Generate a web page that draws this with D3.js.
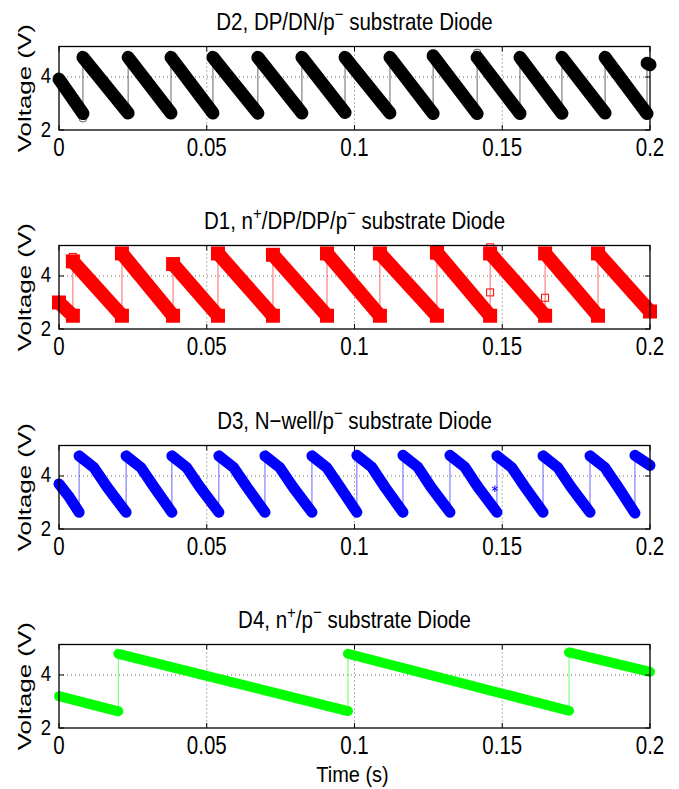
<!DOCTYPE html>
<html>
<head>
<meta charset="utf-8">
<script src="https://cdn.jsdelivr.net/npm/d3@7"></script>
<style>
  body { margin: 0; background: #fff; }
  text { font-family: "Liberation Sans", Arial, Helvetica, sans-serif; fill: #000; }
</style>
</head>
<body>
<svg id="chart" width="679" height="789"></svg>
<script>
// axis ticks
const xTicks = [0, 0.05, 0.1, 0.15, 0.2];
const xTickLabels = ["0", "0.05", "0.1", "0.15", "0.2"];
const yTicks = [2, 4];

// D2 waveform (vertices, a repeated time = reset jump)
const d2Time = [0, 0.0081, 0.0081, 0.0234, 0.0234, 0.0379, 0.0379, 0.0521, 0.0521, 0.0673,
  0.0673, 0.0822, 0.0822, 0.0968, 0.0968, 0.1120, 0.1120, 0.1266, 0.1266, 0.1415,
  0.1415, 0.1560, 0.1560, 0.1702, 0.1702, 0.1848, 0.1848, 0.1990, 0.1990, 0.2];
const d2Volt = [3.92, 2.62, 4.74, 2.64, 4.74, 2.64, 4.74, 2.64, 4.74, 2.63,
  4.74, 2.64, 4.74, 2.66, 4.74, 2.64, 4.74, 2.62, 4.8, 2.62,
  4.74, 2.62, 4.74, 2.63, 4.74, 2.64, 4.74, 2.62, 4.52, 4.46];
const d2OutT = [0.0081, 0.1415];
const d2OutV = [2.45, 4.9];

// D1 waveform
const d1Time = [0, 0.0047, 0.0047, 0.0213, 0.0213, 0.0386, 0.0386, 0.0538, 0.0538, 0.0724,
  0.0724, 0.0907, 0.0907, 0.1086, 0.1086, 0.1279, 0.1279, 0.1459, 0.1459, 0.1645,
  0.1645, 0.1824, 0.1824, 0.2];
const d1Volt = [3.0, 2.5, 4.55, 2.5, 4.85, 2.5, 4.45, 2.5, 4.85, 2.5,
  4.8, 2.5, 4.85, 2.5, 4.85, 2.5, 4.88, 2.5, 4.85, 2.5,
  4.85, 2.5, 4.85, 2.66];
const d1OutT = [0.0047, 0.1459, 0.1459, 0.1645];
const d1OutV = [4.72, 5.08, 3.38, 3.18];

// D3 waveform
const d3Time = [0, 0.0035, 0.0068, 0.0068, 0.0118, 0.0163, 0.0227, 0.0227, 0.0277, 0.0322, 0.0382,
  0.0382, 0.0432, 0.0477, 0.0541, 0.0541, 0.0591, 0.0636, 0.0697, 0.0697, 0.0747, 0.0792, 0.0856,
  0.0856, 0.0906, 0.0951, 0.1008, 0.1008, 0.1058, 0.1103, 0.1164, 0.1164, 0.1214, 0.1259, 0.1323,
  0.1323, 0.1373, 0.1418, 0.1482, 0.1482, 0.1532, 0.1577, 0.1638, 0.1638, 0.1688, 0.1733, 0.1797,
  0.1797, 0.1847, 0.1892, 0.1949, 0.1949, 0.2];
const d3Volt = [3.7, 3.2, 2.63, 4.76, 4.32, 3.58, 2.63, 4.76, 4.32, 3.58, 2.63,
  4.76, 4.32, 3.58, 2.63, 4.76, 4.32, 3.58, 2.63, 4.76, 4.32, 3.58, 2.63,
  4.76, 4.32, 3.58, 2.63, 4.78, 4.34, 3.58, 2.63, 4.78, 4.34, 3.58, 2.63,
  4.78, 4.34, 3.58, 2.63, 4.76, 4.32, 3.58, 2.63, 4.76, 4.32, 3.58, 2.63,
  4.76, 4.32, 3.58, 2.6, 4.78, 4.4];
const d3OutT = [0.1475];
const d3OutV = [3.52];

// D4 waveform
const d4Time = [0, 0.0201, 0.0201, 0.0978, 0.0978, 0.1726, 0.1726, 0.2];
const d4Volt = [3.2, 2.63, 4.8, 2.64, 4.8, 2.65, 4.85, 4.12];

const panels = [
  { title: [["D2, DP/DN/p", 0], ["\u2212", 1], [" substrate Diode", 0]], t: d2Time, v: d2Volt,
    outT: d2OutT, outV: d2OutV, color: "#000000", width: 13, cap: "round", marker: "circle" },
  { title: [["D1, n", 0], ["+", 1], ["/DP/DP/p", 0], ["\u2212", 1], [" substrate Diode", 0]], t: d1Time, v: d1Volt,
    outT: d1OutT, outV: d1OutV, color: "#ff0000", width: 14, cap: "butt", marker: "square" },
  { title: [["D3, N\u2212well/p", 0], ["\u2212", 1], [" substrate Diode", 0]], t: d3Time, v: d3Volt,
    outT: d3OutT, outV: d3OutV, color: "#0000ff", width: 11, cap: "round", marker: "star" },
  { title: [["D4, n", 0], ["+", 1], ["/p", 0], ["\u2212", 1], [" substrate Diode", 0]], t: d4Time, v: d4Volt,
    outT: [], outV: [], color: "#00ff00", width: 10, cap: "round", marker: "none" }
];

const left = 59, right = 650, plotH = 83.5;
const tops = [46.5, 245.5, 445.5, 644.5];

const svg = d3.select("#chart");
const x = d3.scaleLinear().domain([0, 0.2]).range([left, right]);

function addText(g, px, py, k, size, anchor) {
  return g.append("text")
    .attr("transform", "translate(" + px + "," + py + ") scale(1," + k + ")")
    .attr("font-size", size)
    .attr("text-anchor", anchor);
}

// split vertex list into runs at the reset jumps
function splitRuns(T, V) {
  const runs = [];
  let cur = [];
  T.forEach((t, i) => {
    if (i > 0 && t === T[i - 1]) { runs.push(cur); cur = []; }
    cur.push([t, V[i]]);
  });
  runs.push(cur);
  return runs;
}

panels.forEach((p, idx) => {
  const top = tops[idx], bottom = top + plotH;
  const y = d3.scaleLinear().domain([2, 5.15]).range([bottom, top]);
  const g = svg.append("g");

  // grid (dotted)
  xTicks.slice(1, -1).forEach(t => {
    g.append("line").attr("x1", x(t)).attr("x2", x(t)).attr("y1", top).attr("y2", bottom)
      .attr("stroke", "#444").attr("stroke-width", 0.8).attr("stroke-dasharray", "1,3");
  });
  g.append("line").attr("x1", left).attr("x2", right).attr("y1", y(4)).attr("y2", y(4))
    .attr("stroke", "#444").attr("stroke-width", 0.8).attr("stroke-dasharray", "1,3");

  const line = d3.line().x(d => x(d[0])).y(d => y(d[1]));
  const pts = p.t.map((t, i) => [t, p.v[i]]);

  // thick marker band for each ramp
  splitRuns(p.t, p.v).forEach(run => {
    g.append("path").attr("d", line(run)).attr("fill", "none")
      .attr("stroke", p.color).attr("stroke-width", p.width)
      .attr("stroke-linecap", p.cap).attr("stroke-linejoin", "round");
    if (p.marker === "square") {
      [run[0], run[run.length - 1]].forEach(d => {
        g.append("rect").attr("x", x(d[0]) - p.width / 2).attr("y", y(d[1]) - p.width / 2)
          .attr("width", p.width).attr("height", p.width).attr("fill", p.color);
      });
    }
  });
  // thin connecting line (shows the jumps)
  g.append("path").attr("d", line(pts)).attr("fill", "none")
    .attr("stroke", p.color).attr("stroke-opacity", 0.6).attr("stroke-width", 1);

  // stray markers
  p.outT.forEach((t, i) => {
    const cx = x(t), cy = y(p.outV[i]);
    if (p.marker === "circle") {
      g.append("circle").attr("cx", cx).attr("cy", cy).attr("r", 4)
        .attr("fill", "none").attr("stroke", p.color).attr("stroke-opacity", 0.6);
    } else if (p.marker === "square") {
      g.append("rect").attr("x", cx - 3.5).attr("y", cy - 3.5).attr("width", 7).attr("height", 7)
        .attr("fill", "none").attr("stroke", p.color);
    } else if (p.marker === "star") {
      g.append("path").attr("d", d3.symbol(d3.symbolAsterisk, 30)())
        .attr("transform", "translate(" + cx + "," + cy + ")")
        .attr("fill", "none").attr("stroke", p.color);
    }
  });

  // axes box
  g.append("rect").attr("x", left).attr("y", top).attr("width", right - left).attr("height", plotH)
    .attr("fill", "none").attr("stroke", "#000").attr("stroke-width", 1.3);

  // inward ticks
  xTicks.forEach(t => {
    g.append("line").attr("x1", x(t)).attr("x2", x(t)).attr("y1", bottom).attr("y2", bottom - 5).attr("stroke", "#000");
    g.append("line").attr("x1", x(t)).attr("x2", x(t)).attr("y1", top).attr("y2", top + 5).attr("stroke", "#000");
  });
  yTicks.forEach(v => {
    g.append("line").attr("x1", left).attr("x2", left + 5).attr("y1", y(v)).attr("y2", y(v)).attr("stroke", "#000");
    g.append("line").attr("x1", right).attr("x2", right - 5).attr("y1", y(v)).attr("y2", y(v)).attr("stroke", "#000");
  });

  // tick labels
  xTicks.forEach((t, i) => {
    addText(g, x(t), bottom + 26, 1.25, 20.5, "middle").text(xTickLabels[i]);
  });
  yTicks.forEach(v => {
    addText(g, left - 8, y(v) + 6.5, 1.2, 18.5, "end").text(v);
  });

  // y label
  g.append("text")
    .attr("transform", "translate(31," + (top + plotH / 2) + ") rotate(-90) scale(1.4,1)")
    .attr("font-size", 18.5).attr("text-anchor", "middle").text("Voltage (V)");

  // title
  const tt = addText(g, (left + right) / 2, top - 17, 1.15, 20.5, "middle");
  let raised = false;
  p.title.forEach(([s, sup]) => {
    const ts = tt.append("tspan").text(s);
    if (sup && !raised) { ts.attr("dy", -8).attr("font-size", 15); raised = true; }
    else if (!sup && raised) { ts.attr("dy", 8); raised = false; }
    else if (sup) { ts.attr("font-size", 15); }
  });
});

// x label
addText(svg, (left + right) / 2 - 2, 782, 1.12, 20, "middle").text("Time (s)");
</script>
</body>
</html>
